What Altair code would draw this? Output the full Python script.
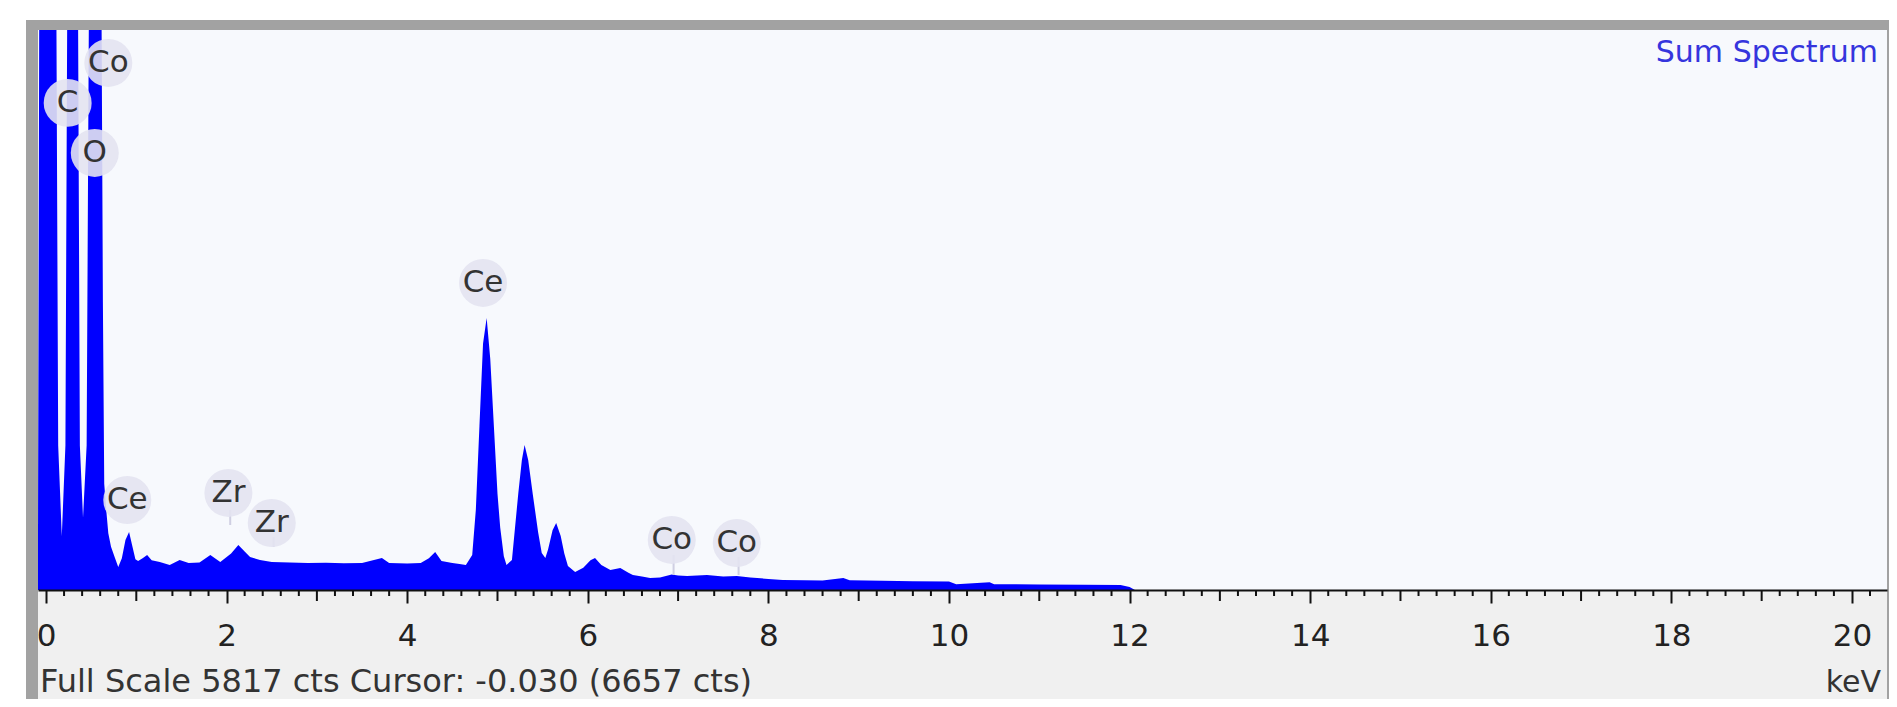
import altair as alt
import pandas as pd

# ---- spectrum (energy in keV, counts) ----
energy = [-0.089, -0.075, -0.06, 0.06, 0.115, 0.135, 0.175, 0.215, 0.235, 0.26, 0.32, 0.355,
          0.375, 0.41, 0.45, 0.475, 0.50, 0.60, 0.615, 0.63, 0.645, 0.67, 0.69, 0.72, 0.76,
          0.80, 0.84, 0.88, 0.92, 0.95, 0.99, 1.02, 1.07, 1.12, 1.17, 1.26, 1.37, 1.48, 1.58,
          1.70, 1.82, 1.93, 2.05, 2.13, 2.20, 2.26, 2.37, 2.50, 2.70, 2.90, 3.10, 3.30, 3.50,
          3.72, 3.80, 4.00, 4.15, 4.24, 4.31, 4.38, 4.50, 4.58, 4.65, 4.72, 4.76, 4.80, 4.84,
          4.88, 4.92, 4.96, 5.00, 5.03, 5.07, 5.10, 5.16, 5.23, 5.27, 5.30, 5.34, 5.39, 5.45,
          5.49, 5.53, 5.56, 5.61, 5.65, 5.70, 5.74, 5.78, 5.86, 5.95, 6.03, 6.08, 6.15, 6.25,
          6.36, 6.45, 6.50, 6.60, 6.69, 6.80, 6.93, 7.00, 7.10, 7.32, 7.50, 7.65, 7.80, 8.00,
          8.16, 8.40, 8.60, 8.83, 8.90, 9.27, 9.60, 10.00, 10.08, 10.45, 10.50, 11.00, 11.50,
          11.90, 12.00, 12.06, 20.40]
counts = [400, 6000, 12000, 12000, 6000, 1500, 560, 1500, 6000, 12000, 12000, 6000,
          1500, 750, 1500, 6000, 12000, 12000, 6000, 3000, 1100, 800, 590, 450, 343,
          240, 330, 520, 603, 480, 320, 300, 330, 364, 310, 290, 260, 312, 280,
          285, 364, 290, 380, 468, 400, 343, 312, 290, 285, 280, 282, 278, 280,
          332, 280, 275, 280, 330, 395, 300, 280, 270, 260, 364, 830, 1700, 2560,
          2826, 2400, 1700, 1000, 650, 350, 260, 312, 1000, 1350, 1506, 1350, 1000, 600,
          385, 332, 420, 620, 696, 560, 380, 250, 187, 230, 310, 332, 260, 208,
          229, 180, 156, 140, 125, 130, 160, 150, 145, 155, 140, 145, 130, 115,
          104, 100, 98, 125, 100, 95, 90, 88, 60, 80, 60, 58, 55,
          52, 30, 0, 0]

# ---- element labels ----
label_text = ["Co", "C", "O", "Ce", "Zr", "Zr", "Ce", "Co", "Co"]
label_kev = [0.69, 0.24, 0.54, 0.90, 2.02, 2.50, 4.84, 6.93, 7.65]
label_cts = [5475, 5060, 4540, 935, 1008, 696, 3190, 520, 488]

# faint marker lines under some labels
marker_kev = [2.04, 2.52, 6.95, 7.67]
marker_top = [831, 550, 364, 343]
marker_bottom = [675, 447, 156, 156]

# ---- axis ticks ----
major_ticks = [0, 2, 4, 6, 8, 10, 12, 14, 16, 18, 20]
mid_ticks = [1, 3, 5, 7, 9, 11, 13, 15, 17, 19]
minor_ticks = [round(i * 0.2, 1) for i in range(101) if i % 5 != 0] + [20.2]

full_scale = 5817
footer_text = "Full Scale 5817 cts Cursor: -0.030  (6657 cts)"
unit_text = "keV"
title_text = "Sum Spectrum"

W, H = 1849, 560
FONT = "DejaVu Sans"

xs = alt.Scale(domain=[-0.0886, 20.388], nice=False, zero=False)
ys = alt.Scale(domain=[0, full_scale], nice=False, zero=True)

one = pd.DataFrame({"a": [0]})
spec = pd.DataFrame({"keV": energy, "cts": counts})
labels = pd.DataFrame({"el": label_text, "keV": label_kev, "cts": label_cts})
markers = pd.DataFrame({"keV": marker_kev, "top": marker_top, "bot": marker_bottom})
minor_df = pd.DataFrame({"t": minor_ticks})
mid_df = pd.DataFrame({"t": mid_ticks})

frame = alt.Chart(one).mark_rect(color="#a2a2a2").encode(
    x=alt.value(-12), x2=alt.value(W + 2), y=alt.value(-10), y2=alt.value(H + 109))
plot_bg = alt.Chart(one).mark_rect(color="#f7f9fd").encode(
    x=alt.value(0), x2=alt.value(W), y=alt.value(0), y2=alt.value(H))
low_bg = alt.Chart(one).mark_rect(color="#f0f0f0").encode(
    x=alt.value(0), x2=alt.value(W), y=alt.value(H), y2=alt.value(H + 109))

area = alt.Chart(spec).mark_area(color="#0000ff", clip=True, interpolate="linear").encode(
    x=alt.X("keV:Q", scale=xs, title=None,
            axis=alt.Axis(values=major_ticks, format="d", tickSize=13, tickWidth=2,
                          tickColor="#111", domainColor="#111", domainWidth=2,
                          labelFont=FONT, labelFontSize=31, labelColor="#222",
                          labelPadding=33, labelBaseline="middle",
                          labelFlush=False, labelOverlap=False, grid=False, zindex=1)),
    y=alt.Y("cts:Q", scale=ys, axis=None),
)

minor = alt.Chart(minor_df).mark_rule(color="#111", strokeWidth=2).encode(
    x=alt.X("t:Q", scale=xs), y=alt.value(H), y2=alt.value(H + 6))
mid = alt.Chart(mid_df).mark_rule(color="#111", strokeWidth=2).encode(
    x=alt.X("t:Q", scale=xs), y=alt.value(H), y2=alt.value(H + 11))

marker_lines = alt.Chart(markers).mark_rule(color="#cfcfe2", strokeWidth=2).encode(
    x=alt.X("keV:Q", scale=xs), y=alt.Y("top:Q", scale=ys), y2="bot:Q")
halo = alt.Chart(labels).mark_circle(size=2300, color="#e3e3f1", opacity=0.9).encode(
    x=alt.X("keV:Q", scale=xs), y=alt.Y("cts:Q", scale=ys))
text = alt.Chart(labels).mark_text(font=FONT, fontSize=31, color="#333333",
                                   baseline="middle", align="center").encode(
    x=alt.X("keV:Q", scale=xs), y=alt.Y("cts:Q", scale=ys), text="el:N")

title = alt.Chart(one).mark_text(font=FONT, fontSize=30, color="#3535dd", align="right",
                                 baseline="middle", text=title_text).encode(
    x=alt.value(W - 9), y=alt.value(23))
footer = alt.Chart(one).mark_text(font=FONT, fontSize=32, color="#333333", align="left",
                                  baseline="alphabetic", text=footer_text).encode(
    x=alt.value(2), y=alt.value(662))
unit = alt.Chart(one).mark_text(font=FONT, fontSize=30, color="#333333", align="right",
                                baseline="alphabetic", text=unit_text).encode(
    x=alt.value(W - 6), y=alt.value(662))

chart = alt.layer(frame, plot_bg, low_bg, area, minor, mid, marker_lines, halo, text,
                  title, footer, unit).properties(
    width=W, height=H,
    autosize=alt.AutoSizeParams(type="none"),
    padding={"left": 30, "top": 22, "right": 2, "bottom": 109},
    background="white",
).configure_view(stroke=None)

chart.save("out.html", embed_options={"renderer": "svg", "actions": False})
